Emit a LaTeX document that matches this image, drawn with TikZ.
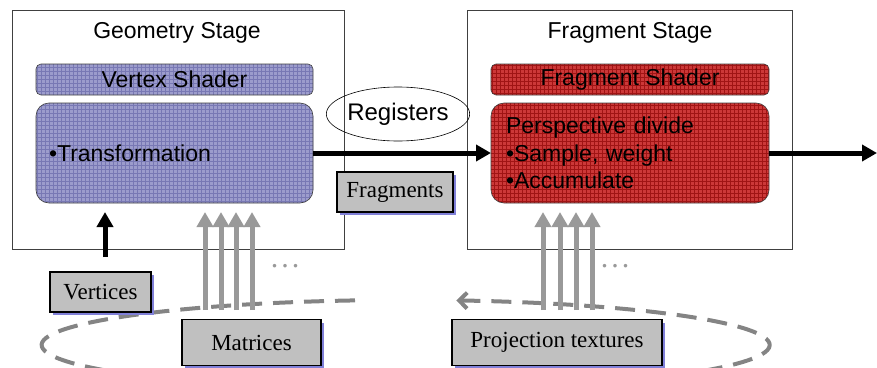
\documentclass[tikz,border=0pt]{standalone}
\usepackage{fontspec}
\setmainfont{Liberation Sans}
\newfontfamily\timesfont{Liberation Serif}
\usetikzlibrary{arrows.meta,shapes.geometric,shadows}
\definecolor{bluefill}{HTML}{9C9CCC}
\definecolor{bluegrid}{HTML}{7878B4}
\definecolor{redfill}{HTML}{CC3838}
\definecolor{redgrid}{HTML}{A01414}
\definecolor{boxgray}{HTML}{C0C0C0}
\definecolor{shadowblue}{HTML}{8080D8}
\definecolor{arrowgray}{HTML}{999999}
\definecolor{loopgray}{HTML}{848484}
\definecolor{stageline}{HTML}{404040}
\tikzset{
  sanstext/.style={font=\fontsize{23}{27.5}\selectfont},
  stagebox/.style={draw=stageline, line width=0.8pt, fill=white, inner sep=0pt, outer sep=0pt},
  gridfill/.style n args={2}{fill=#1, path picture={\draw[#2, line width=0.5pt, step=4pt] (path picture bounding box.south west) grid (path picture bounding box.north east);}},
  bluebox/.style={draw=stageline, line width=0.6pt, gridfill={bluefill}{bluegrid}, inner sep=0pt, outer sep=0pt, sanstext},
  redbox/.style={draw=stageline, line width=0.6pt, gridfill={redfill}{redgrid}, inner sep=0pt, outer sep=0pt, sanstext},
  graybox/.style={draw=black, line width=1.6pt, fill=boxgray, inner sep=0pt, outer sep=0pt,
     font=\timesfont\fontsize{23}{27}\selectfont,
     drop shadow={shadow xshift=3pt, shadow yshift=-3pt, fill=shadowblue, opacity=1}},
  blackarrow/.style={draw=black, line width=5pt, -{Triangle[length=15pt,width=16pt]}},
  grayarrow/.style={draw=arrowgray, line width=5pt, -{Triangle[length=15pt,width=16pt]}},
  loopline/.style={draw=loopgray, line width=4pt, dash pattern=on 20pt off 11pt, -{Straight Barb[length=8pt,width=16pt]}},
  dotstext/.style={text=arrowgray, font=\timesfont\fontsize{30}{30}\selectfont, inner sep=0pt, anchor=base},
}
\begin{document}
\begin{tikzpicture}[x=1pt,y=-1pt]
\useasboundingbox (0,0) rectangle (877,367);

% dashed loop behind everything
\coordinate (loopstart) at (355,300.4);
\draw[loopline] (loopstart) arc[start angle=262, end angle=-82, x radius=364, y radius=45];

% stage boxes
\node[stagebox, minimum width=332pt, minimum height=239pt] (geo) at (178,129.5) {};
\node[stagebox, minimum width=325pt, minimum height=239pt] (fragst) at (629.5,129.5) {};
\node[sanstext, inner sep=0pt] (geotitle) at (177,33) {Geometry Stage};
\node[sanstext, inner sep=0pt] (fragtitle) at (630,33) {Fragment Stage};

% shader boxes
\node[bluebox, rounded corners=5pt, minimum width=277pt, minimum height=31pt] (vshader) at (174.5,79.5) {Vertex Shader};
\node[bluebox, rounded corners=13pt, minimum height=100pt, text width=251pt, inner xsep=13pt, align=left] (trans) at (174.5,153) {\textbullet Transformation};
\node[redbox, rounded corners=5pt, minimum width=278pt, minimum height=31pt] (fshader) at (630,79.5) {Fragment Shader};
\node[redbox, rounded corners=13pt, minimum height=100pt, text width=248pt, inner xsep=15pt, align=left] (persp) at (630,153) {Perspective divide\\\textbullet Sample, weight\\\textbullet Accumulate};

% registers
\node[draw=black, line width=0.6pt, ellipse, minimum width=139pt, minimum height=54pt, inner sep=0pt, font=\fontsize{24}{24}\selectfont] (reg) at (398,114) {Registers};

% main flow
\coordinate (out) at (877,153);
\draw[blackarrow] (trans.east) -- (persp.west);
\draw[blackarrow] (persp.east) -- (out);

% gray input arrows
\foreach \i/\x in {1/205,2/221,3/236,4/252}{
  \coordinate (ms\i) at (\x,310);
  \coordinate (me\i) at (\x,212);
  \draw[grayarrow] (ms\i) -- (me\i);
}
\foreach \i/\x in {1/543,2/560,3/576,4/592}{
  \coordinate (ps\i) at (\x,310);
  \coordinate (pe\i) at (\x,212);
  \draw[grayarrow] (ps\i) -- (pe\i);
}
\node[dotstext] (dots1) at (285,267) {.\kern3pt.\kern3pt.};
\node[dotstext] (dots2) at (615,267) {.\kern3pt.\kern3pt.};

% vertices arrow
\coordinate (vin) at (105,257);
\coordinate (vend) at (105,212);
\draw[blackarrow] (vin) -- (vend);

% gray label boxes
\node[graybox, minimum width=116pt, minimum height=40pt] (fragments) at (395,192) {Fragments};
\node[graybox, minimum width=101pt, minimum height=40pt] (vertices) at (100.5,292) {Vertices};
\node[graybox, minimum width=139pt, minimum height=46pt] (matrices) at (251.5,342.5) {Matrices};
\node[graybox, minimum width=210pt, minimum height=46pt] (projtex) at (557,342.5) {Projection textures};
\end{tikzpicture}
\end{document}
